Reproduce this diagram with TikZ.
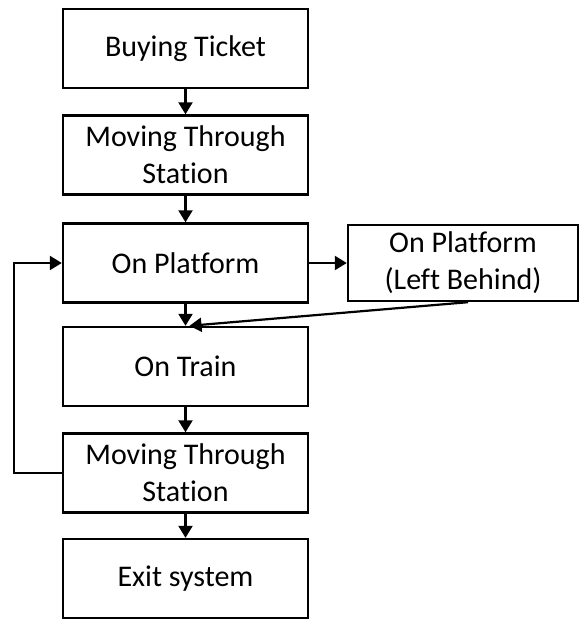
\documentclass[tikz,border=0pt]{standalone}
\usepackage{fontspec}
\setmainfont{Carlito}[Ligatures=NoCommon]
\usetikzlibrary{arrows.meta}
\tikzstyle{arrow} = [line width=2.2pt,-{Triangle[length=12pt,width=14pt]}]
\tikzstyle{stagebox} = [rectangle, draw, line width=2.4pt, minimum width=245pt, minimum height=79pt, inner sep=0pt, align=center, font=\fontsize{30}{37}\selectfont]

\begin{document}
\begin{tikzpicture}[x=1pt,y=-1pt]
\useasboundingbox (0,0) rectangle (582,621);
% Journey stages
\node[stagebox] (ticket) at (185.5,48.5) {Buying Ticket};
\node[stagebox] (move1) at (185.5,155) {Moving Through\\Station};
\node[stagebox] (platform) at (185.5,263) {On Platform};
\node[stagebox] (train) at (185.5,366.5) {On Train};
\node[stagebox] (move2) at (185.5,473) {Moving Through\\Station};
\node[stagebox] (exit) at (185.5,578.5) {Exit system};

% Missed train
\node[stagebox, minimum width=230pt, minimum height=76pt] (behind) at (463,263) {On Platform\\(Left Behind)};

% Flows
\draw[arrow] (ticket) -- (move1);
\draw[arrow] (move1) -- (platform);
\draw[arrow] (platform) -- (train);
\draw[arrow] (train) -- (move2);
\draw[arrow] (move2) -- (exit);
\draw[arrow] (platform) -- (behind);
\draw[arrow] ([xshift=5pt]behind.south) -- ([xshift=4pt]train.north);

% Return to platform
\coordinate (loopbot) at (14,473);
\coordinate (looptop) at (14,263);
\draw[arrow] (move2.west) -- (loopbot) -- (looptop) -- (platform.west);
\end{tikzpicture}
\end{document}
